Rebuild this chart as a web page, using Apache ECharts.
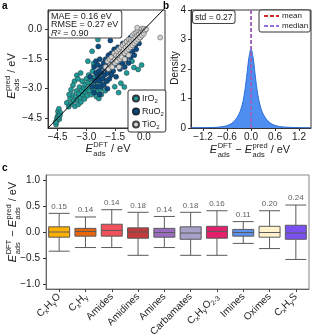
<!DOCTYPE html>
<html><head><meta charset="utf-8">
<script src="https://cdn.jsdelivr.net/npm/echarts@6/dist/echarts.min.js"></script>
<style>html,body{margin:0;padding:0;background:#fff}#c{width:312px;height:335px}</style>
</head><body><div id="c"></div><script>
const FONT = '"Liberation Sans", Arial, sans-serif';

// ---------- Panel a : parity plot ----------
const irO2 = [
 [-4.58,-4.82],[-4.52,-4.62],[-4.5,-4.42],[-4.46,-4.3],[-4.48,-4.15],[-4.43,-4.02],[-4.54,-4.52],[-4.41,-4.55],[-4.36,-4.22],[-4.6,-4.7],[-4.47,-4.47],[-4.38,-4.36],
 [-4.02,-3.72],[-3.92,-3.92],[-3.85,-3.5],[-3.78,-3.76],[-3.72,-3.32],[-3.66,-3.62],[-3.6,-3.9],[-3.56,-3.42],[-3.52,-3.12],[-3.46,-3.56],[-3.42,-3.8],[-3.4,-3.26],[-3.36,-2.92],[-3.32,-3.46],[-3.28,-3.68],[-3.25,-3.1],[-3.22,-2.62],[-3.18,-3.32],[-3.14,-2.96],[-3.1,-3.52],[-3.08,-2.8],[-3.04,-3.2],[-3.0,-2.5],[-2.98,-3.02],[-2.95,-3.36],[-2.9,-2.7],[-2.88,-2.3],[-2.84,-3.1],[-2.8,-2.9],[-2.78,-2.52],[-2.74,-3.3],[-2.7,-2.7],[-2.68,-2.12],[-2.64,-3.0],[-2.6,-2.84],[-2.58,-2.42],[-2.55,-3.22],[-2.5,-2.6],[-2.48,-3.4],[-2.45,-2.9],[-2.4,-3.12],[-2.38,-2.3],[-2.35,-3.5],[-2.3,-2.76],[-2.26,-3.02],[-2.22,-3.3],[-2.18,-2.5],[-2.1,-2.82],[-2.02,-3.1],[-1.92,-2.62],
 [-3.62,-2.62],[-3.5,-2.32],[-3.3,-2.2],[-3.44,-2.5],[-3.7,-2.82],[-3.9,-3.3],[-3.8,-3.05],
 [-1.52,-2.9],[-1.32,-3.2],[-1.2,-2.72],[-1.02,-2.92],[-0.52,-1.92],[-0.3,-2.02],[-0.12,-1.8],[-0.62,-1.6],[-0.9,-2.2],[-1.7,-2.22],[-1.12,-1.52],
 [-2.4,-0.5],[-2.7,-1.1],[-2.92,-1.6],[-2.62,-1.72],
 [-0.42,-0.32],[-0.22,-0.12],[-0.72,-0.62]
];
const ruO2 = [
 [-2.8,-2.4],[-2.7,-2.9],[-2.6,-1.9],[-2.55,-2.6],[-2.5,-2.2],[-2.5,-1.6],[-2.45,-2.9],[-2.4,-2.4],[-2.4,-1.8],[-2.35,-2.1],[-2.3,-2.6],[-2.3,-1.5],[-2.25,-2.9],[-2.2,-2.2],[-2.2,-1.9],[-2.15,-2.5],[-2.1,-1.7],[-2.1,-2.8],[-2.05,-2.3],[-2.0,-2.0],[-2.0,-1.5],[-1.95,-2.6],[-1.9,-1.8],[-1.9,-2.2],[-1.85,-1.3],[-1.8,-2.5],[-1.8,-1.6],[-1.75,-2.0],[-1.7,-1.2],[-1.7,-2.3],[-1.65,-1.7],[-1.6,-1.4],[-1.6,-2.1],[-1.55,-1.0],[-1.5,-1.8],[-1.5,-1.3],[-1.45,-2.4],[-1.4,-1.5],[-1.35,-0.9],[-1.3,-1.8],[-1.3,-1.2],[-1.25,-2.0],[-1.2,-1.0],[-1.2,-1.5],[-1.1,-1.7],[-1.1,-0.7],[-1.05,-1.3],[-1.0,-0.9],[-1.0,-1.9],[-0.95,-1.5],[-0.9,-0.6],[-0.85,-1.2],[-0.8,-1.7],[-0.75,-0.9],[-0.7,-0.4],[-0.7,-1.4],[-0.6,-1.1],[-0.55,-0.6],[-0.5,-0.3],[-0.5,-1.3],[-0.45,-0.8],[-0.4,-1.0],[-0.35,-0.5],[-0.3,-0.2],[-0.25,-0.7],[-0.2,-0.4],[-0.15,-0.15],[-2.6,-3.2],[-2.3,-3.3],[-1.9,-3.0],
 [-2.38,-0.85],[-1.75,-0.55]
];
const tiO2 = [
 [-2.0,-1.9],[-1.9,-1.6],[-1.85,-2.0],[-1.8,-1.5],[-1.75,-1.8],[-1.7,-1.4],[-1.65,-1.9],[-1.6,-1.6],[-1.55,-1.2],[-1.5,-1.5],[-1.5,-1.7],[-1.45,-1.3],[-1.4,-1.1],[-1.4,-1.6],[-1.35,-1.4],[-1.3,-1.0],[-1.3,-1.3],[-1.25,-1.5],[-1.2,-1.2],[-1.2,-0.9],[-1.15,-1.4],[-1.1,-1.1],[-1.1,-0.8],[-1.05,-1.0],[-1.0,-1.2],[-1.0,-0.7],[-0.95,-0.9],[-0.9,-1.1],[-0.9,-0.6],[-0.85,-0.8],[-0.8,-1.0],[-0.8,-0.5],[-0.75,-0.7],[-0.7,-0.9],[-0.7,-0.5],[-0.65,-0.6],[-0.6,-0.8],[-0.6,-0.3],[-0.55,-0.5],[-0.5,-0.7],[-0.5,-0.2],[-0.45,-0.4],[-0.4,-0.6],[-0.4,-0.15],[-0.35,-0.3],[-0.3,-0.5],[-0.3,-0.05],[-0.25,-0.25],[-0.2,-0.4],[-0.2,0.0],[-0.15,-0.15],[-0.1,-0.3],[-0.1,0.05],[-0.05,-0.1],[0.0,-0.2],[0.0,0.05],[0.05,-0.05],[-0.35,0.1],[0.12,0.02],
 [-1.3,-1.9],[-1.0,-1.5],[-0.8,-1.3],[0.85,-0.4]
];
const parityLine = [[-5, -5], [1.1, 1.1]];
const ticksA = [-4.5, -3.0, -1.5, 0.0];
const statNames = ['MAE', 'RMSE'];
const statValues = [0.16, 0.27];
const r2Value = 0.90;

// ---------- Panel b : error density ----------
const errX =    [-1.5, -1.2, -1.0, -0.8, -0.7, -0.6, -0.5, -0.4, -0.3, -0.25, -0.2, -0.15, -0.1, -0.05, 0.0, 0.05, 0.1, 0.15, 0.2, 0.25, 0.3, 0.4, 0.5, 0.6, 0.7, 0.8, 1.0, 1.2, 1.5];
const density = [0.005,0.01, 0.015,0.03, 0.05, 0.08, 0.14, 0.26, 0.47, 0.65, 0.9, 1.3, 1.85, 2.4, 2.68, 2.42, 1.85, 1.3, 0.92, 0.66, 0.48, 0.27, 0.15, 0.085,0.055,0.035,0.02, 0.012,0.005];
const meanErr = 0.005;
const medianErr = 0.0;
const stdErr = 0.27;
const ticksBx = [-1.2, -0.6, 0.0, 0.6, 1.2];

// ---------- Panel c : boxplots ----------
const categories = ['C{s|x}H{s|y}O', 'C{s|x}H{s|y}', 'Amides', 'Amidines', 'Amines', 'Carbamates', 'C{s|x}H{s|y}O{s|2-3}', 'Imines', 'Oximes', 'C{s|x}H{s|y}S'];
const boxStats = [
 [-0.37, -0.10, 0.00, 0.10, 0.36],
 [-0.30, -0.08, 0.01, 0.07, 0.29],
 [-0.30, -0.08, 0.03, 0.15, 0.43],
 [-0.45, -0.12, 0.00, 0.08, 0.38],
 [-0.30, -0.10, -0.01, 0.07, 0.30],
 [-0.45, -0.14, -0.02, 0.10, 0.38],
 [-0.45, -0.12, 0.01, 0.11, 0.41],
 [-0.22, -0.08, -0.01, 0.05, 0.20],
 [-0.32, -0.10, -0.01, 0.11, 0.41],
 [-0.53, -0.14, -0.02, 0.13, 0.52]
];
const stds = [0.15, 0.14, 0.14, 0.18, 0.14, 0.18, 0.16, 0.11, 0.20, 0.24];
const boxColors = ['#ffb000', '#e8650c', '#f2505c', '#c23a3c', '#9a6cc0', '#a7a0c8', '#e2206c', '#5b92f0', '#fff2cc', '#7a50f0'];
const ticksC = [-1.0, -0.5, 0.0, 0.5, 1.0];

// ---------- helpers ----------
const minus = v => String(v).replace('-', '\u2212');
const fmt1 = v => minus(Number(v).toFixed(1));
const mctx = document.createElement('canvas').getContext('2d');
function tw(t, size, style) { mctx.font = (style || 'normal') + ' ' + size + 'px ' + FONT; return mctx.measureText(t).width; }
function eLabel(cx, cy, rot, parts) {
  const big = 11, small = 7.5;
  let x = 0; const kids = [];
  const st = (t, s, it) => ({ text: t, fontSize: s, fontFamily: FONT, fontStyle: it ? 'italic' : 'normal', fill: '#222', textAlign: 'left', textVerticalAlign: 'middle' });
  for (const p of parts) {
    if (typeof p === 'string') {
      const it = p === 'E';
      kids.push({ type: 'text', x: x, y: 0, style: st(p, big, it) });
      x += tw(p, big, it ? 'italic' : 'normal') + (it ? 0.5 : 0);
    } else {
      kids.push({ type: 'text', x: x, y: -4.5, style: st(p[0], small, false) });
      kids.push({ type: 'text', x: x, y: 4.5, style: st(p[1], small, false) });
      x += Math.max(tw(p[0], small), tw(p[1], small));
    }
  }
  kids.forEach(k => { k.x -= x / 2; });
  return { type: 'group', x: cx, y: cy, rotation: rot, children: kids };
}
function valAxis(gridIndex, min, max, ticks, margin, fmt, lineColor) {
  return {
    type: 'value', gridIndex, min, max,
    axisLine: { show: true, onZero: false, lineStyle: { color: lineColor || '#333', width: 1 } },
    splitLine: { show: false },
    axisTick: { show: true, length: 3, lineStyle: { color: '#333' }, customValues: ticks },
    axisLabel: { fontSize: 10, fontFamily: FONT, color: '#222', margin, customValues: ticks, formatter: fmt }
  };
}

const chart = echarts.init(document.getElementById('c'), null, { renderer: 'canvas' });
const option = {
  animation: false,
  backgroundColor: '#fff',
  textStyle: { fontFamily: FONT },
  grid: [
    { left: 48, top: 10, width: 117, height: 118, show: true, borderColor: '#333', borderWidth: 1, backgroundColor: 'transparent', containLabel: false, outerBoundsMode: 'none' },
    { left: 191, top: 10, width: 120, height: 118, show: true, borderColor: '#333', borderWidth: 1, backgroundColor: 'transparent', containLabel: false, outerBoundsMode: 'none' },
    { left: 46, top: 175, width: 263, height: 114, show: true, borderColor: '#888', borderWidth: 1, backgroundColor: 'transparent', containLabel: false, outerBoundsMode: 'none' }
  ],
  xAxis: [
    valAxis(0, -5.0, 1.1, ticksA, 4, fmt1),
    valAxis(1, -1.5, 1.5, ticksBx, 4, fmt1),
    {
      type: 'category', gridIndex: 2, data: categories,
      axisLine: { show: true, onZero: false, lineStyle: { color: '#666' } },
      axisTick: { show: true, alignWithLabel: true, length: 3, lineStyle: { color: '#444' } },
      axisLabel: {
        rotate: 45, interval: 0, margin: 6, fontSize: 10, fontFamily: FONT, color: '#222', lineHeight: 13,
        rich: { s: { fontSize: 7, fontFamily: FONT, color: '#222', verticalAlign: 'bottom', lineHeight: 6 } }
      }
    }
  ],
  yAxis: [
    valAxis(0, -5.0, 1.0, ticksA, 6, fmt1),
    valAxis(1, 0, 4, [0, 1, 2, 3, 4], 5, v => String(v)),
    valAxis(2, -1.1, 1.1, ticksC, 6, fmt1, '#666')
  ],
  legend: [
    {
      data: ['IrO2', 'RuO2', 'TiO2'], orient: 'vertical', left: 128, top: 90,
      icon: 'circle', itemWidth: 6, itemHeight: 6, itemGap: 2,
      borderColor: '#333', borderWidth: 1, borderRadius: 2, padding: [3, 2, 2, 4], backgroundColor: '#fff',
      selectedMode: false,
      formatter: n => n.replace('2', '{s|2}'),
      textStyle: { fontSize: 9, fontFamily: FONT, color: '#222', lineHeight: 11, padding: [0, 0, 0, -2],
        rich: { s: { fontSize: 6, fontFamily: FONT, color: '#222', verticalAlign: 'bottom', lineHeight: 6 } } }
    },
    {
      data: [{ name: 'mean', itemStyle: { opacity: 0 } }, { name: 'median', itemStyle: { opacity: 0 } }],
      orient: 'vertical', left: 259, top: 10,
      itemWidth: 15, itemHeight: 8, itemGap: 2,
      borderColor: '#333', borderWidth: 1, borderRadius: 2, padding: [2, 2, 2, 4], backgroundColor: '#fff',
      selectedMode: false,
      textStyle: { fontSize: 8, fontFamily: FONT, color: '#222', padding: [0, 0, 0, -2] }
    }
  ],
  series: [
    { name: 'IrO2', type: 'scatter', xAxisIndex: 0, yAxisIndex: 0, data: irO2, symbolSize: 5,
      itemStyle: { color: '#1f9c99', borderColor: '#2b3a3a', borderWidth: 0.5, opacity: 1 } },
    { name: 'RuO2', type: 'scatter', xAxisIndex: 0, yAxisIndex: 0, data: ruO2, symbolSize: 5,
      itemStyle: { color: '#0d4c80', borderColor: '#1a2a3a', borderWidth: 0.5, opacity: 1 } },
    { name: 'TiO2', type: 'scatter', xAxisIndex: 0, yAxisIndex: 0, data: tiO2, symbolSize: 5,
      itemStyle: { color: '#d4d4d4', borderColor: '#444', borderWidth: 0.5, opacity: 1 } },
    { name: 'parity', type: 'line', xAxisIndex: 0, yAxisIndex: 0, data: parityLine, symbol: 'none', z: 5, silent: true,
      lineStyle: { color: '#000', width: 1 } },
    { name: 'density', type: 'line', xAxisIndex: 1, yAxisIndex: 1, data: errX.map((x, i) => [x, density[i]]),
      symbol: 'none', smooth: 0.3, lineStyle: { color: '#2d6fd8', width: 1 }, areaStyle: { color: '#4e8ef0', opacity: 1 } },
    { name: 'mean', type: 'line', xAxisIndex: 1, yAxisIndex: 1, data: [[meanErr, 0], [meanErr, 4]], symbol: 'none', z: 6,
      lineStyle: { color: '#d62728', width: 1.5, type: [4, 2] }, itemStyle: { color: '#d62728' } },
    { name: 'median', type: 'line', xAxisIndex: 1, yAxisIndex: 1, data: [[medianErr, 0], [medianErr, 4]], symbol: 'none', z: 7,
      lineStyle: { color: '#9370db', width: 1.5, type: [4, 2] }, itemStyle: { color: '#9370db' } },
    { name: 'groups', type: 'boxplot', xAxisIndex: 2, yAxisIndex: 2, boxWidth: [21, 21],
      data: boxStats.map((b, i) => ({ value: b, itemStyle: { color: boxColors[i], borderColor: '#5a5a5a', borderWidth: 1 } })) },
    { name: 'stdLabels', type: 'scatter', xAxisIndex: 2, yAxisIndex: 2, symbolSize: 0, silent: true,
      data: boxStats.map((b, i) => [i, b[4]]),
      label: { show: true, position: 'top', distance: 3, fontSize: 8, fontFamily: FONT, color: '#333',
        formatter: p => stds[p.dataIndex].toFixed(2) } }
  ],
  graphic: [
    { type: 'text', left: 2, top: 1, style: { text: 'a', fontSize: 10, fontWeight: 'bold', fontFamily: FONT, fill: '#000' } },
    { type: 'text', left: 163, top: 1, style: { text: 'b', fontSize: 10, fontWeight: 'bold', fontFamily: FONT, fill: '#000' } },
    { type: 'text', left: 2, top: 163, style: { text: 'c', fontSize: 10, fontWeight: 'bold', fontFamily: FONT, fill: '#000' } },
    { type: 'text', x: 49, y: 11, z: 10, style: {
        text: statNames[0] + ' = ' + statValues[0].toFixed(2) + ' eV\n' + statNames[1] + ' = ' + statValues[1].toFixed(2) + ' eV\n{i|R}{sup|2} = ' + r2Value.toFixed(2),
        fontSize: 9, fontFamily: FONT, fill: '#222', lineHeight: 8.5,
        backgroundColor: '#fff', borderColor: '#444', borderWidth: 1, borderRadius: 2, padding: [1, 3, 0, 2],
        rich: { i: { fontSize: 9, fontStyle: 'italic', fontFamily: FONT, fill: '#222', lineHeight: 8.5 },
                sup: { fontSize: 6, fontFamily: FONT, fill: '#222', verticalAlign: 'top', lineHeight: 5 } } } },
    { type: 'text', x: 193, y: 11, z: 10, style: {
        text: 'std = ' + stdErr.toFixed(2), fontSize: 8.5, fontFamily: FONT, fill: '#222',
        backgroundColor: '#fff', borderColor: '#444', borderWidth: 1, borderRadius: 2, padding: [2, 2, 1, 2] } },
    eLabel(108, 149, 0, ['E', ['DFT', 'ads'], ' / eV']),
    eLabel(12, 76, Math.PI / 2, ['E', ['pred', 'ads'], ' / eV']),
    { type: 'text', x: 175, y: 68, rotation: Math.PI / 2, style: { text: 'Density', fontSize: 10, fontFamily: FONT, fill: '#222', textAlign: 'center', textVerticalAlign: 'middle' } },
    eLabel(250, 150, 0, ['E', ['DFT', 'ads'], ' \u2212 ', 'E', ['pred', 'ads'], ' / eV']),
    eLabel(13, 222, Math.PI / 2, ['E', ['DFT', 'ads'], ' \u2212 ', 'E', ['pred', 'ads'], ' / eV'])
  ]
};
chart.setOption(option);
</script></body></html>
